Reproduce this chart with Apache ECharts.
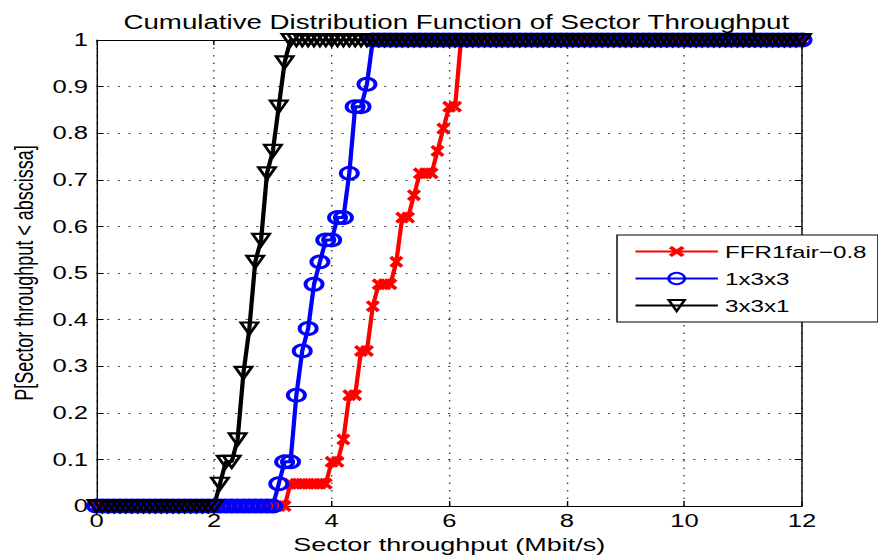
<!DOCTYPE html>
<html>
<head>
<meta charset="utf-8">
<script src="https://cdn.jsdelivr.net/npm/echarts@6/dist/echarts.min.js"></script>
<style>
  html, body { margin: 0; padding: 0; background: #fff; overflow: hidden; }
  /* the figure is drawn at a narrower width and widened horizontally */
  #chart { width: 618px; height: 559px; transform: scaleX(1.4207); transform-origin: 0 0; }
</style>
</head>
<body>
<div id="chart"></div>
<script>
// Sector throughput grid (Mbit/s) at which the CDFs are evaluated
const throughputMbps = [
  0.0, 0.1, 0.2, 0.3, 0.4, 0.5, 0.6, 0.7, 0.8, 0.9,
  1.0, 1.1, 1.2, 1.3, 1.4, 1.5, 1.6, 1.7, 1.8, 1.9,
  2.0, 2.1, 2.2, 2.3, 2.4, 2.5, 2.6, 2.7, 2.8, 2.9,
  3.0, 3.1, 3.2, 3.3, 3.4, 3.5, 3.6, 3.7, 3.8, 3.9,
  4.0, 4.1, 4.2, 4.3, 4.4, 4.5, 4.6, 4.7, 4.8, 4.9,
  5.0, 5.1, 5.2, 5.3, 5.4, 5.5, 5.6, 5.7, 5.8, 5.9,
  6.0, 6.1, 6.2, 6.3, 6.4, 6.5, 6.6, 6.7, 6.8, 6.9,
  7.0, 7.1, 7.2, 7.3, 7.4, 7.5, 7.6, 7.7, 7.8, 7.9,
  8.0, 8.1, 8.2, 8.3, 8.4, 8.5, 8.6, 8.7, 8.8, 8.9,
  9.0, 9.1, 9.2, 9.3, 9.4, 9.5, 9.6, 9.7, 9.8, 9.9,
  10.0, 10.1, 10.2, 10.3, 10.4, 10.5, 10.6, 10.7, 10.8, 10.9,
  11.0, 11.1, 11.2, 11.3, 11.4, 11.5, 11.6, 11.7, 11.8, 11.9,
  12.0
];

// P[sector throughput < abscissa] for each scheme
const cdfFFR1fair = [
  0, 0, 0, 0, 0, 0, 0, 0, 0, 0,
  0, 0, 0, 0, 0, 0, 0, 0, 0, 0,
  0, 0, 0, 0, 0, 0, 0, 0, 0, 0,
  0, 0, 0, 0.048, 0.048, 0.048, 0.048, 0.048, 0.048, 0.048,
  0.095, 0.095, 0.143, 0.238, 0.238, 0.333, 0.333, 0.429, 0.476, 0.476,
  0.476, 0.524, 0.619, 0.619, 0.667, 0.714, 0.714, 0.714, 0.762, 0.810,
  0.857, 0.857, 1, 1, 1, 1, 1, 1, 1, 1,
  1, 1, 1, 1, 1, 1, 1, 1, 1, 1,
  1, 1, 1, 1, 1, 1, 1, 1, 1, 1,
  1, 1, 1, 1, 1, 1, 1, 1, 1, 1,
  1, 1, 1, 1, 1, 1, 1, 1, 1, 1,
  1, 1, 1, 1, 1, 1, 1, 1, 1, 1,
  1
];

const cdf1x3x3 = [
  0, 0, 0, 0, 0, 0, 0, 0, 0, 0,
  0, 0, 0, 0, 0, 0, 0, 0, 0, 0,
  0, 0, 0, 0, 0, 0, 0, 0, 0, 0,
  0, 0.048, 0.095, 0.095, 0.238, 0.333, 0.381, 0.476, 0.524, 0.571,
  0.571, 0.619, 0.619, 0.714, 0.857, 0.857, 0.905, 1, 1, 1,
  1, 1, 1, 1, 1, 1, 1, 1, 1, 1,
  1, 1, 1, 1, 1, 1, 1, 1, 1, 1,
  1, 1, 1, 1, 1, 1, 1, 1, 1, 1,
  1, 1, 1, 1, 1, 1, 1, 1, 1, 1,
  1, 1, 1, 1, 1, 1, 1, 1, 1, 1,
  1, 1, 1, 1, 1, 1, 1, 1, 1, 1,
  1, 1, 1, 1, 1, 1, 1, 1, 1, 1,
  1
];

const cdf3x3x1 = [
  0, 0, 0, 0, 0, 0, 0, 0, 0, 0,
  0, 0, 0, 0, 0, 0, 0, 0, 0, 0,
  0, 0.048, 0.095, 0.095, 0.143, 0.286, 0.381, 0.524, 0.571, 0.714,
  0.762, 0.857, 0.952, 1, 1, 1, 1, 1, 1, 1,
  1, 1, 1, 1, 1, 1, 1, 1, 1, 1,
  1, 1, 1, 1, 1, 1, 1, 1, 1, 1,
  1, 1, 1, 1, 1, 1, 1, 1, 1, 1,
  1, 1, 1, 1, 1, 1, 1, 1, 1, 1,
  1, 1, 1, 1, 1, 1, 1, 1, 1, 1,
  1, 1, 1, 1, 1, 1, 1, 1, 1, 1,
  1, 1, 1, 1, 1, 1, 1, 1, 1, 1,
  1, 1, 1, 1, 1, 1, 1, 1, 1, 1,
  1
];

const seriesNames = ['FFR1fair\u22120.8', '1x3x3', '3x3x1'];

const xTicks = { min: 0, max: 12, interval: 2 };
const yTicks = { min: 0, max: 1, interval: 0.1 };

const FONT = "'Liberation Sans', Arial, Helvetica, sans-serif";
const crossPath = 'path://M2,0 L5,3 L8,0 L10,2 L7,5 L10,8 L8,10 L5,7 L2,10 L0,8 L3,5 L0,2 Z';

function pairs(ys) {
  return throughputMbps.map((x, i) => [x, ys[i]]);
}

const gridLine = { show: true, lineStyle: { color: '#444', width: 1, type: [1.5, 6] } };
const axisBase = {
  axisLine: { show: true, onZero: false, lineStyle: { color: '#000', width: 1 } },
  axisTick: { show: true, inside: true, length: 5, lineStyle: { color: '#000' } }
};

const chart = echarts.init(document.getElementById('chart'), null, { renderer: 'svg' });

chart.setOption({
  animation: false,
  backgroundColor: '#fff',
  title: {
    text: 'Cumulative Distribution Function of Sector Throughput',
    left: 316.2,
    textAlign: 'center',
    top: 7,
    textStyle: { fontFamily: FONT, fontSize: 19.5, fontWeight: 'normal', color: '#000' }
  },
  grid: { left: 67.9, right: 53.5, top: 40, bottom: 50 },
  legend: {
    orient: 'vertical',
    left: 434.3,
    top: 235,
    itemWidth: 58,
    itemHeight: 14,
    itemGap: 10,
    padding: [8, 8, 8, 12],
    backgroundColor: '#fff',
    borderColor: '#000',
    borderWidth: 1,
    borderRadius: 0,
    textStyle: { fontFamily: FONT, fontSize: 17, color: '#000' },
    data: seriesNames
  },
  xAxis: [
    Object.assign({
      type: 'value', position: 'bottom',
      min: xTicks.min, max: xTicks.max, interval: xTicks.interval,
      name: 'Sector throughput (Mbit/s)', nameLocation: 'middle', nameGap: 27,
      nameTextStyle: { fontFamily: FONT, fontSize: 19, color: '#000' },
      axisLabel: { fontFamily: FONT, fontSize: 18, color: '#000', margin: 6 },
      splitLine: gridLine
    }, axisBase),
    Object.assign({
      type: 'value', position: 'top',
      min: xTicks.min, max: xTicks.max, interval: xTicks.interval,
      axisLabel: { show: false }, splitLine: { show: false }
    }, axisBase)
  ],
  yAxis: [
    Object.assign({
      type: 'value', position: 'left',
      min: yTicks.min, max: yTicks.max, interval: yTicks.interval,
      name: 'P[Sector throughput < abscissa]', nameLocation: 'middle', nameGap: 41,
      nameTextStyle: { fontFamily: FONT, fontSize: 18, color: '#000' },
      axisLabel: { fontFamily: FONT, fontSize: 18, color: '#000', margin: 6 },
      splitLine: gridLine
    }, axisBase),
    Object.assign({
      type: 'value', position: 'right',
      min: yTicks.min, max: yTicks.max, interval: yTicks.interval,
      axisLabel: { show: false }, splitLine: { show: false }
    }, axisBase)
  ],
  series: [
    {
      name: seriesNames[0], type: 'line', data: pairs(cdfFFR1fair),
      color: '#ff0000', clip: false, showAllSymbol: true,
      symbol: crossPath, symbolSize: [10, 12],
      itemStyle: { color: '#ff0000' },
      lineStyle: { color: '#ff0000', width: 3 }
    },
    {
      name: seriesNames[1], type: 'line', data: pairs(cdf1x3x3),
      color: '#0000ff', clip: false, showAllSymbol: true,
      symbol: 'circle', symbolSize: 12,
      itemStyle: { color: 'rgba(0,0,0,0)', borderColor: '#0000ff', borderWidth: 2.8 },
      lineStyle: { color: '#0000ff', width: 3 }
    },
    {
      name: seriesNames[2], type: 'line', data: pairs(cdf3x3x1),
      color: '#000000', clip: false, showAllSymbol: true,
      symbol: 'triangle', symbolRotate: 180, symbolSize: [12, 12],
      itemStyle: { color: 'rgba(0,0,0,0)', borderColor: '#000000', borderWidth: 2.2 },
      lineStyle: { color: '#000000', width: 3 }
    }
  ]
});
</script>
</body>
</html>
